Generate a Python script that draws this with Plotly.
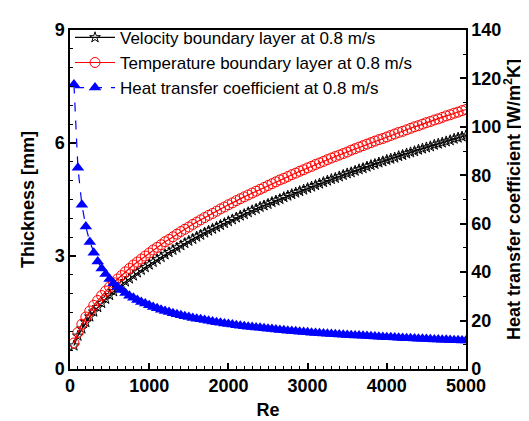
import plotly.graph_objects as go

re_vals = [50, 100, 150, 200, 250, 300, 350, 400, 450, 500,
           550, 600, 650, 700, 750, 800, 850, 900, 950, 1000,
           1050, 1100, 1150, 1200, 1250, 1300, 1350, 1400, 1450, 1500,
           1550, 1600, 1650, 1700, 1750, 1800, 1850, 1900, 1950, 2000,
           2050, 2100, 2150, 2200, 2250, 2300, 2350, 2400, 2450, 2500,
           2550, 2600, 2650, 2700, 2750, 2800, 2850, 2900, 2950, 3000,
           3050, 3100, 3150, 3200, 3250, 3300, 3350, 3400, 3450, 3500,
           3550, 3600, 3650, 3700, 3750, 3800, 3850, 3900, 3950, 4000,
           4050, 4100, 4150, 4200, 4250, 4300, 4350, 4400, 4450, 4500,
           4550, 4600, 4650, 4700, 4750, 4800, 4850, 4900, 4950, 5000]

velocity_bl = [0.62, 0.88, 1.07, 1.24, 1.39, 1.52, 1.64, 1.75, 1.86, 1.96,
               2.06, 2.15, 2.24, 2.32, 2.40, 2.48, 2.56, 2.63, 2.70, 2.77,
               2.84, 2.91, 2.97, 3.04, 3.10, 3.16, 3.22, 3.28, 3.34, 3.40,
               3.45, 3.51, 3.56, 3.62, 3.67, 3.72, 3.77, 3.82, 3.87, 3.92,
               3.97, 4.02, 4.07, 4.11, 4.16, 4.21, 4.25, 4.30, 4.34, 4.38,
               4.43, 4.47, 4.51, 4.56, 4.60, 4.64, 4.68, 4.72, 4.76, 4.80,
               4.84, 4.88, 4.92, 4.96, 5.00, 5.04, 5.07, 5.11, 5.15, 5.19,
               5.22, 5.26, 5.30, 5.33, 5.37, 5.41, 5.44, 5.48, 5.51, 5.55,
               5.58, 5.61, 5.65, 5.68, 5.72, 5.75, 5.78, 5.82, 5.85, 5.88,
               5.91, 5.95, 5.98, 6.01, 6.04, 6.07, 6.11, 6.14, 6.17, 6.20]

temperature_bl = [0.69, 0.97, 1.19, 1.38, 1.54, 1.69, 1.82, 1.95, 2.07, 2.18,
                  2.29, 2.39, 2.48, 2.58, 2.67, 2.76, 2.84, 2.92, 3.00, 3.08,
                  3.16, 3.23, 3.30, 3.38, 3.44, 3.51, 3.58, 3.65, 3.71, 3.77,
                  3.84, 3.90, 3.96, 4.02, 4.08, 4.13, 4.19, 4.25, 4.30, 4.36,
                  4.41, 4.47, 4.52, 4.57, 4.62, 4.67, 4.72, 4.77, 4.82, 4.87,
                  4.92, 4.97, 5.02, 5.06, 5.11, 5.16, 5.20, 5.25, 5.29, 5.34,
                  5.38, 5.43, 5.47, 5.51, 5.56, 5.60, 5.64, 5.68, 5.72, 5.76,
                  5.81, 5.85, 5.89, 5.93, 5.97, 6.01, 6.05, 6.09, 6.12, 6.16,
                  6.20, 6.24, 6.28, 6.31, 6.35, 6.39, 6.43, 6.46, 6.50, 6.54,
                  6.57, 6.61, 6.64, 6.68, 6.72, 6.75, 6.79, 6.82, 6.86, 6.89]

heat_coeff = [117.5, 83.1, 67.8, 58.8, 52.5, 48.0, 44.4, 41.5, 39.2, 37.2,
              35.4, 33.9, 32.6, 31.4, 30.3, 29.4, 28.5, 27.7, 27.0, 26.3,
              25.6, 25.1, 24.5, 24.0, 23.5, 23.0, 22.6, 22.2, 21.8, 21.5,
              21.1, 20.8, 20.5, 20.2, 19.9, 19.6, 19.3, 19.1, 18.8, 18.6,
              18.4, 18.1, 17.9, 17.7, 17.5, 17.3, 17.1, 17.0, 16.8, 16.6,
              16.5, 16.3, 16.1, 16.0, 15.8, 15.7, 15.6, 15.4, 15.3, 15.2,
              15.0, 14.9, 14.8, 14.7, 14.6, 14.5, 14.4, 14.2, 14.1, 14.0,
              13.9, 13.8, 13.8, 13.7, 13.6, 13.5, 13.4, 13.3, 13.2, 13.1,
              13.1, 13.0, 12.9, 12.8, 12.7, 12.7, 12.6, 12.5, 12.5, 12.4,
              12.3, 12.2, 12.2, 12.1, 12.1, 12.0, 11.9, 11.9, 11.8, 11.75]

FONT = "Liberation Sans, Arial, sans-serif"

fig = go.Figure()
fig.add_trace(go.Scatter(
    x=re_vals, y=velocity_bl, name="Velocity boundary layer at 0.8 m/s",
    mode="lines+markers",
    line=dict(color="black", width=1.2),
    marker=dict(symbol="star-open", size=8, color="black", line=dict(width=1, color="black")),
))
fig.add_trace(go.Scatter(
    x=re_vals, y=temperature_bl, name="Temperature boundary layer at 0.8 m/s",
    mode="lines+markers",
    line=dict(color="red", width=1.2),
    marker=dict(symbol="circle-open", size=10, color="red", line=dict(width=1, color="red")),
))
fig.add_trace(go.Scatter(
    x=re_vals, y=heat_coeff, name="Heat transfer coefficient at 0.8 m/s",
    yaxis="y2", mode="lines+markers",
    line=dict(color="blue", width=1.2, dash="dash"),
    marker=dict(symbol="triangle-up", size=11, color="blue"),
))

axis_common = dict(
    showline=True, linecolor="black", linewidth=1.5,
    ticks="inside", ticklen=6, tickwidth=1.5, tickcolor="black",
    showgrid=False, zeroline=False, automargin=False,
    tickfont=dict(family=FONT, size=18, color="black", weight="bold"),
)

fig.update_layout(
    width=529, height=421,
    margin=dict(l=62, r=71, t=17, b=60),
    plot_bgcolor="white", paper_bgcolor="white",
    font=dict(family=FONT, color="black"),
    xaxis=dict(
        range=[0, 5000], dtick=1000, mirror=True,
        minor=dict(dtick=100, ticks="inside", ticklen=3, tickwidth=1.2, tickcolor="black"),
        title=dict(text="Re", font=dict(family=FONT, size=18, weight="bold"), standoff=8),
        **axis_common,
    ),
    yaxis=dict(
        range=[0, 9], dtick=3,
        minor=dict(dtick=0.5, ticks="inside", ticklen=3, tickwidth=1.2, tickcolor="black"),
        title=dict(text="Thickness [mm]", font=dict(family=FONT, size=18, weight="bold"), standoff=15),
        **axis_common,
    ),
    yaxis2=dict(
        range=[0, 140], dtick=20, overlaying="y", side="right",
        minor=dict(dtick=10, ticks="inside", ticklen=3, tickwidth=1.2, tickcolor="black"),
        title=dict(text="Heat transfer coefficient [W/m<sup>2</sup>K]",
                   font=dict(family=FONT, size=18, weight="bold"), standoff=4),
        **axis_common,
    ),
    legend=dict(
        x=0.0, y=1.03, xanchor="left", yanchor="top",
        bgcolor="rgba(0,0,0,0)", borderwidth=0,
        font=dict(family=FONT, size=17, color="black"),
        itemwidth=40, tracegroupgap=0,
    ),
    showlegend=True,
)

fig.write_html("out.html")
